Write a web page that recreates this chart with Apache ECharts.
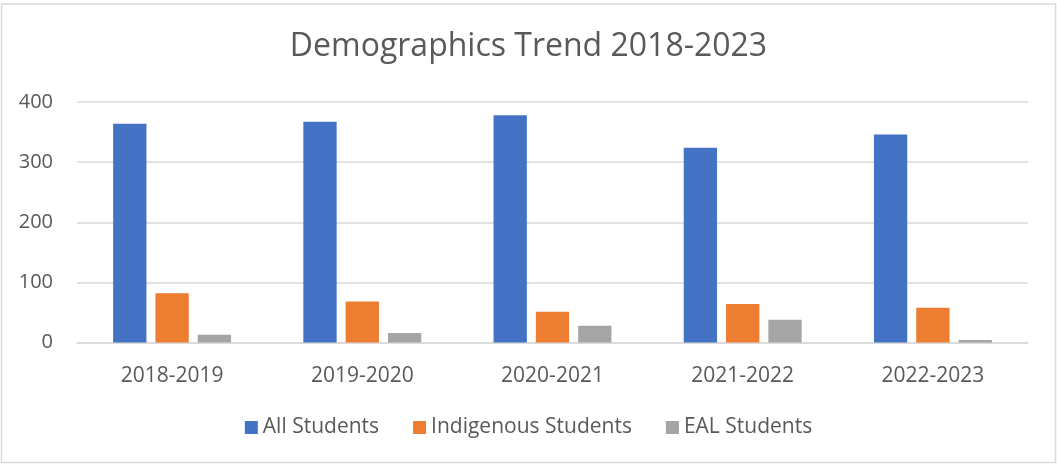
<!DOCTYPE html>
<html>
<head>
<meta charset="utf-8">
<script src="https://cdn.jsdelivr.net/npm/echarts@6/dist/echarts.min.js"></script>
<style>
html,body{margin:0;padding:0;background:#fff;}
#c{width:1057px;height:464px;}
</style>
</head>
<body>
<div id="c"></div>
<script>
const categories = ['2018-2019', '2019-2020', '2020-2021', '2021-2022', '2022-2023'];
const allStudents = [364, 367, 378, 324, 346];
const indigenousStudents = [82, 68, 51, 64, 58];
const ealStudents = [13, 16, 28, 38, 4];
const yTicks = [0, 100, 200, 300, 400];

const FONT = 'Open Sans';
const TXT = '#595959';
const chart = echarts.init(document.getElementById('c'));
chart.setOption({
  animation: false,
  graphic: [{
    type: 'rect',
    shape: { x: 1.5, y: 4, width: 1054, height: 458.5 },
    style: { fill: 'none', stroke: '#d9d9d9', lineWidth: 1.5 },
    silent: true
  }],
  title: {
    text: 'Demographics Trend 2018-2023',
    left: 'center',
    top: 26,
    textStyle: { fontFamily: FONT, fontSize: 32, fontWeight: 'normal', color: TXT }
  },
  legend: {
    bottom: 21,
    left: 'center',
    itemWidth: 13,
    itemHeight: 13,
    itemGap: 34,
    icon: 'rect',
    textStyle: { fontFamily: FONT, fontSize: 21, color: TXT }
  },
  grid: { left: 77, right: 29, top: 102, bottom: 121.5, containLabel: false },
  xAxis: {
    type: 'category',
    data: categories,
    axisTick: { show: false },
    axisLine: { lineStyle: { color: '#d9d9d9', width: 1.5 } },
    axisLabel: { fontFamily: FONT, fontSize: 21, color: TXT, margin: 23 }
  },
  yAxis: {
    type: 'value',
    min: yTicks[0],
    max: yTicks[yTicks.length - 1],
    interval: 100,
    axisLine: { show: false },
    axisTick: { show: false },
    splitLine: { lineStyle: { color: '#d9d9d9', width: 1.5 } },
    axisLabel: { fontFamily: FONT, fontSize: 20, color: TXT, margin: 24 }
  },
  series: [
    { name: 'All Students', type: 'bar', data: allStudents, itemStyle: { color: '#4472c4' }, barGap: '27%', barCategoryGap: '38%' },
    { name: 'Indigenous Students', type: 'bar', data: indigenousStudents, itemStyle: { color: '#ed7d31' } },
    { name: 'EAL Students', type: 'bar', data: ealStudents, itemStyle: { color: '#a5a5a5' } }
  ]
});
</script>
</body>
</html>
